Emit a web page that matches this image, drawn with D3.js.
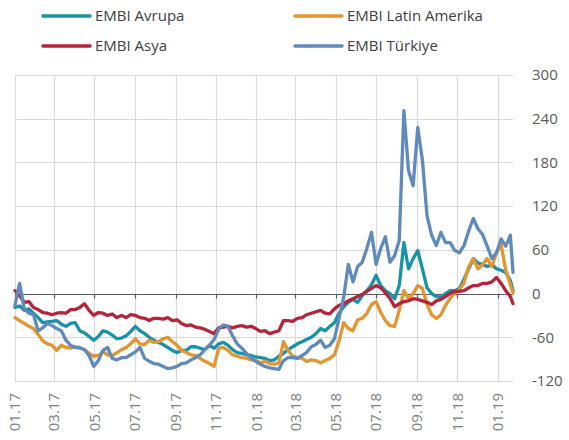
<!DOCTYPE html>
<html>
<head>
<meta charset="utf-8">
<script src="https://cdn.jsdelivr.net/npm/d3@7"></script>
<style>
	html, body { margin: 0; padding: 0; background: #fff; }
	text { font-family: 'Open Sans', 'Noto Sans', sans-serif; }
</style>
</head>
<body>
<div id="chart"></div>
<script>
// weekly readings, first week of Jan 2017 to late Jan 2019
var avrupa = [
	-19, -17, -23, -21, -27, -33, -40, -39, -38, -37,
	-42, -45, -41, -40, -51, -54, -59, -64, -59, -51,
	-53, -57, -62, -61, -58, -52, -45, -51, -55, -60,
	-64, -67, -70, -74, -78, -81, -78, -78, -73, -73,
	-75, -77, -71, -75, -69, -67, -71, -77, -81, -82,
	-84, -85, -87, -88, -89, -92, -91, -86, -82, -77,
	-73, -69, -66, -63, -60, -55, -48, -51, -45, -40,
	-27, -18, -12, -8, -12, -3, 4, 12, 25, 11,
	4, 0, -7, 11, 70, 34, 48, 59, 34, 8,
	0, -4, -5, 0, 4, 4, 7, 20, 34, 48,
	42, 40, 37, 40, 34, 32, 29, 18, 4
];
var latinAmerika = [
	-33, -37, -41, -45, -48, -56, -65, -69, -71, -78,
	-71, -74, -75, -73, -75, -77, -82, -86, -85, -80,
	-84, -85, -81, -77, -74, -69, -62, -69, -70, -64,
	-67, -66, -62, -60, -66, -71, -78, -81, -84, -85,
	-89, -93, -96, -100, -75, -74, -78, -84, -86, -88,
	-89, -91, -92, -95, -93, -96, -97, -95, -66, -78,
	-86, -88, -89, -93, -91, -92, -95, -92, -89, -84,
	-65, -40, -48, -51, -36, -34, -27, -15, -11, -26,
	-37, -44, -45, -23, 4, -7, 0, 11, 7, -15,
	-29, -34, -29, -16, -7, 1, 5, 15, 37, 48,
	34, 40, 48, 37, 56, 67, 32, 12, 1
];
var asya = [
	4, -3, -12, -11, -19, -22, -26, -27, -29, -27,
	-26, -27, -22, -22, -19, -14, -23, -30, -26, -27,
	-30, -28, -33, -30, -33, -29, -30, -33, -34, -37,
	-34, -34, -35, -33, -37, -36, -41, -44, -43, -46,
	-47, -49, -52, -55, -47, -46, -45, -47, -45, -44,
	-46, -45, -48, -52, -51, -55, -53, -51, -37, -37,
	-38, -34, -33, -29, -27, -25, -23, -27, -28, -21,
	-16, -14, -10, -7, -4, -1, 3, 7, 11, 8,
	1, -7, -18, -14, -11, -10, -7, -8, -10, -12,
	-15, -10, -8, -4, 0, 3, 3, 4, 8, 11,
	11, 14, 14, 16, 22, 14, 4, -4, -14
];
var turkiye = [
	-16, 14, -21, -27, -29, -51, -47, -41, -44, -48,
	-51, -64, -71, -74, -74, -77, -85, -100, -92, -78,
	-74, -89, -91, -88, -88, -84, -80, -74, -89, -93,
	-96, -97, -100, -103, -102, -100, -96, -95, -91, -88,
	-84, -77, -71, -63, -49, -43, -45, -58, -69, -75,
	-82, -88, -93, -97, -100, -102, -103, -104, -92, -88,
	-88, -89, -85, -81, -73, -70, -64, -74, -71, -62,
	-34, -5, 40, 16, 37, 43, 62, 84, 40, 62,
	78, 43, 52, 73, 251, 169, 148, 228, 183, 107,
	80, 66, 84, 70, 70, 59, 56, 66, 86, 103,
	89, 81, 65, 48, 56, 75, 65, 80, 29
];
var seriesNames = ['EMBI Avrupa', 'EMBI Latin Amerika', 'EMBI Asya', 'EMBI Türkiye'];
var seriesColors = ['#1792a8', '#e3952f', '#b5243a', '#5f8abb'];
var yTicks = [-120, -60, 0, 60, 120, 180, 240, 300];

(function(global) {
	var width = 569,
		height = 440,
		left = 15,
		right = 513,
		top = 75,
		bottom = 381;

	var start = new Date(2017, 0, 1),
		end = new Date(2019, 0, 24);
	// one point a week, the last one sits on the right edge
	var dates = d3.range(avrupa.length - 1).map(function(i) { return d3.timeDay.offset(start, i * 7); });
	dates.push(end);

	var x = d3.scaleTime().domain([start, end]).range([left, right]);
	var y = d3.scaleLinear().domain([-120, 300]).range([bottom, top]);
	var xTicks = x.ticks(d3.timeMonth.every(2));
	var fmt = d3.timeFormat('%m.%y');

	var svg = d3.select('#chart').append('svg')
		.attr('width', width)
		.attr('height', height);
	svg.append('rect').attr('width', width).attr('height', height).attr('fill', '#fff');

	var grid = svg.append('g').attr('class', 'grid');
	grid.selectAll('.h')
		.data(yTicks.filter(function(d) { return d !== 0; }))
		.enter().append('line')
		.attr('x1', left).attr('x2', right)
		.attr('y1', function(d) { return Math.round(y(d)) + 0.5; })
		.attr('y2', function(d) { return Math.round(y(d)) + 0.5; })
		.attr('stroke', '#d9d9d9')
		.attr('stroke-width', 1.2);
	grid.selectAll('.v')
		.data(xTicks)
		.enter().append('line')
		.attr('x1', function(d) { return Math.round(x(d)) + 0.5; })
		.attr('x2', function(d) { return Math.round(x(d)) + 0.5; })
		.attr('y1', top).attr('y2', bottom)
		.attr('stroke', '#d9d9d9')
		.attr('stroke-width', 1.2);

	// zero axis with small ticks hanging below
	var y0 = Math.round(y(0)) + 0.5;
	svg.append('line')
		.attr('x1', left).attr('x2', right)
		.attr('y1', y0).attr('y2', y0)
		.attr('stroke', '#595959')
		.attr('stroke-width', 1.2);
	svg.append('g').selectAll('line')
		.data(xTicks)
		.enter().append('line')
		.attr('x1', function(d) { return Math.round(x(d)) + 0.5; })
		.attr('x2', function(d) { return Math.round(x(d)) + 0.5; })
		.attr('y1', y0).attr('y2', y0 + 4)
		.attr('stroke', '#595959')
		.attr('stroke-width', 1.2);

	var line = d3.line()
		.x(function(d, i) { return x(dates[i]); })
		.y(function(d) { return y(d); });

	var all = [avrupa, latinAmerika, asya, turkiye];
	svg.append('g').selectAll('path')
		.data(all)
		.enter().append('path')
		.attr('d', line)
		.attr('fill', 'none')
		.attr('stroke', function(d, i) { return seriesColors[i]; })
		.attr('stroke-width', 3.3)
		.attr('stroke-linejoin', 'round')
		.attr('stroke-linecap', 'round');

	// right hand value labels
	svg.append('g').selectAll('text')
		.data(yTicks)
		.enter().append('text')
		.attr('x', 532)
		.attr('y', function(d) { return y(d); })
		.attr('dy', '0.35em')
		.attr('font-size', 15)
		.attr('fill', '#595959')
		.text(function(d) { return d; });

	svg.append('g').selectAll('text')
		.data(xTicks)
		.enter().append('text')
		.attr('transform', function(d) { return 'translate(' + x(d) + ',393) rotate(-90)'; })
		.attr('dy', '0.35em')
		.attr('text-anchor', 'end')
		.attr('font-size', 15)
		.attr('fill', '#808080')
		.text(function(d) { return fmt(d); });

	// legend, two per row
	var legend = svg.append('g').selectAll('g')
		.data(seriesNames)
		.enter().append('g')
		.attr('transform', function(d, i) {
			return 'translate(' + (i % 2 ? 295 : 43) + ',' + (i < 2 ? 16 : 46) + ')';
		});
	legend.append('line')
		.attr('x1', 0).attr('x2', 47)
		.attr('stroke', function(d, i) { return seriesColors[i]; })
		.attr('stroke-width', 3.5)
		.attr('stroke-linecap', 'round');
	legend.append('text')
		.attr('x', 52)
		.attr('dy', '0.35em')
		.attr('font-size', 15)
		.attr('fill', '#404040')
		.text(function(d) { return d; });
})(window);
</script>
</body>
</html>
